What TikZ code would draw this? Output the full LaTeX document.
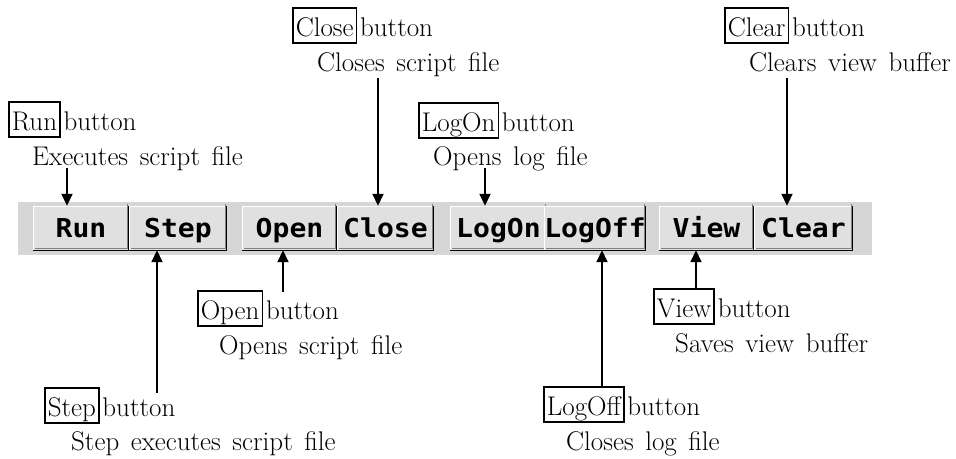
\documentclass[tikz,border=0pt]{standalone}
\usepackage{fontspec}
\usepackage{graphicx}
\newfontfamily\btnfont{DejaVu Sans Mono}
\usetikzlibrary{arrows.meta}
\definecolor{tbgray}{RGB}{214,214,214}
\definecolor{btnface}{RGB}{224,224,224}
\definecolor{btndark}{RGB}{128,128,128}
\newcommand{\lblfont}{\fontsize{27}{32}\selectfont\spaceskip=0.43em plus 0.1em minus 0.05em\relax}
\begin{document}
\begin{tikzpicture}[x=1pt,y=-1pt,
  lbl/.style={font=\lblfont, inner sep=0pt, anchor=base west},
  keybox/.style={draw, line width=1.6pt, font=\lblfont,
    inner xsep=3pt, inner ysep=3pt, text height=25pt, text depth=4pt, anchor=base west},
  btnword/.style={font=\lblfont, inner xsep=2.5pt, inner ysep=0pt, anchor=base west},
  btn/.style={fill=btnface, inner sep=0pt, minimum height=44pt, text height=22pt, text depth=4pt,
    font=\fontsize{26}{30}\btnfont\bfseries},
  arr/.style={line width=1.8pt, -{Triangle[length=12pt,width=11pt]}}
]
\useasboundingbox (0,0) rectangle (956,458);

% toolbar
\fill[tbgray] (18,202) rectangle (872,255);
\foreach \n/\t/\xa/\xb in {run/Run/33/129, step/Step/129/227, open/Open/242/337, close/Close/337/434,
  logon/LogOn/450/547, logoff/LogOff/547/643, view/View/659/754, clear/Clear/754/853}{
  \pgfmathsetmacro{\w}{\xb-\xa}
  \pgfmathsetmacro{\c}{(\xa+\xb)/2}
  \node[btn, minimum width=\w pt] (b-\n) at (\c,228) {\scalebox{1.08}[1]{\t}};
  \draw[white, line width=1.2pt] ([xshift=0.6pt,yshift=0.6pt]b-\n.south west) |- ([yshift=-0.6pt]b-\n.north east);
  \draw[btndark, line width=1.2pt] ([xshift=-1.8pt,yshift=1.8pt]b-\n.north east) |- ([xshift=1.8pt,yshift=1.8pt]b-\n.south west);
  \draw[black, line width=1.2pt] ([xshift=-0.6pt]b-\n.north east) |- ([yshift=-0.6pt]b-\n.south west);
}

% Run
\node[keybox] (k-run) at (8,130) {Run};
\node[btnword] (w-run) at (k-run.base east) {button};
\node[lbl] (d-run) at (32,165) {Executes script file};
\coordinate (a-run) at (67,168);
\draw[arr] (a-run) -- (a-run |- b-run.north);

% Step
\node[keybox] (k-step) at (44,416) {Step};
\node[btnword] (w-step) at (k-step.base east) {button};
\node[lbl] (d-step) at (71,450) {Step executes script file};
\coordinate (a-step) at (157,393);
\draw[arr] (a-step) -- (a-step |- b-step.south);

% Open
\node[keybox] (k-open) at (197,319) {Open};
\node[btnword] (w-open) at (k-open.base east) {button};
\node[lbl] (d-open) at (219,354) {Opens script file};
\coordinate (a-open) at (283,292);
\draw[arr] (a-open) -- (a-open |- b-open.south);

% Close
\node[keybox] (k-close) at (292,36) {Close};
\node[btnword] (w-close) at (k-close.base east) {button};
\node[lbl] (d-close) at (317,71) {Closes script file};
\coordinate (a-close) at (378,78);
\draw[arr] (a-close) -- (a-close |- b-close.north);

% LogOn
\node[keybox] (k-logon) at (418,131) {LogOn};
\node[btnword] (w-logon) at (k-logon.base east) {button};
\node[lbl] (d-logon) at (433,165) {Opens log file};
\coordinate (a-logon) at (485,168);
\draw[arr] (a-logon) -- (a-logon |- b-logon.north);

% LogOff
\node[keybox] (k-logoff) at (543,415) {LogOff};
\node[btnword] (w-logoff) at (k-logoff.base east) {button};
\node[lbl] (d-logoff) at (566,450) {Closes log file};
\coordinate (a-logoff) at (602,387);
\draw[arr] (a-logoff) -- (a-logoff |- b-logoff.south);

% View
\node[keybox] (k-view) at (653,317) {View};
\node[btnword] (w-view) at (k-view.base east) {button};
\node[lbl] (d-view) at (675,352) {Saves view buffer};
\coordinate (a-view) at (696,289);
\draw[arr] (a-view) -- (a-view |- b-view.south);

% Clear
\node[keybox] (k-clear) at (724,36) {Clear};
\node[btnword] (w-clear) at (k-clear.base east) {button};
\node[lbl] (d-clear) at (749,71) {Clears view buffer};
\coordinate (a-clear) at (787,78);
\draw[arr] (a-clear) -- (a-clear |- b-clear.north);
\end{tikzpicture}
\end{document}
